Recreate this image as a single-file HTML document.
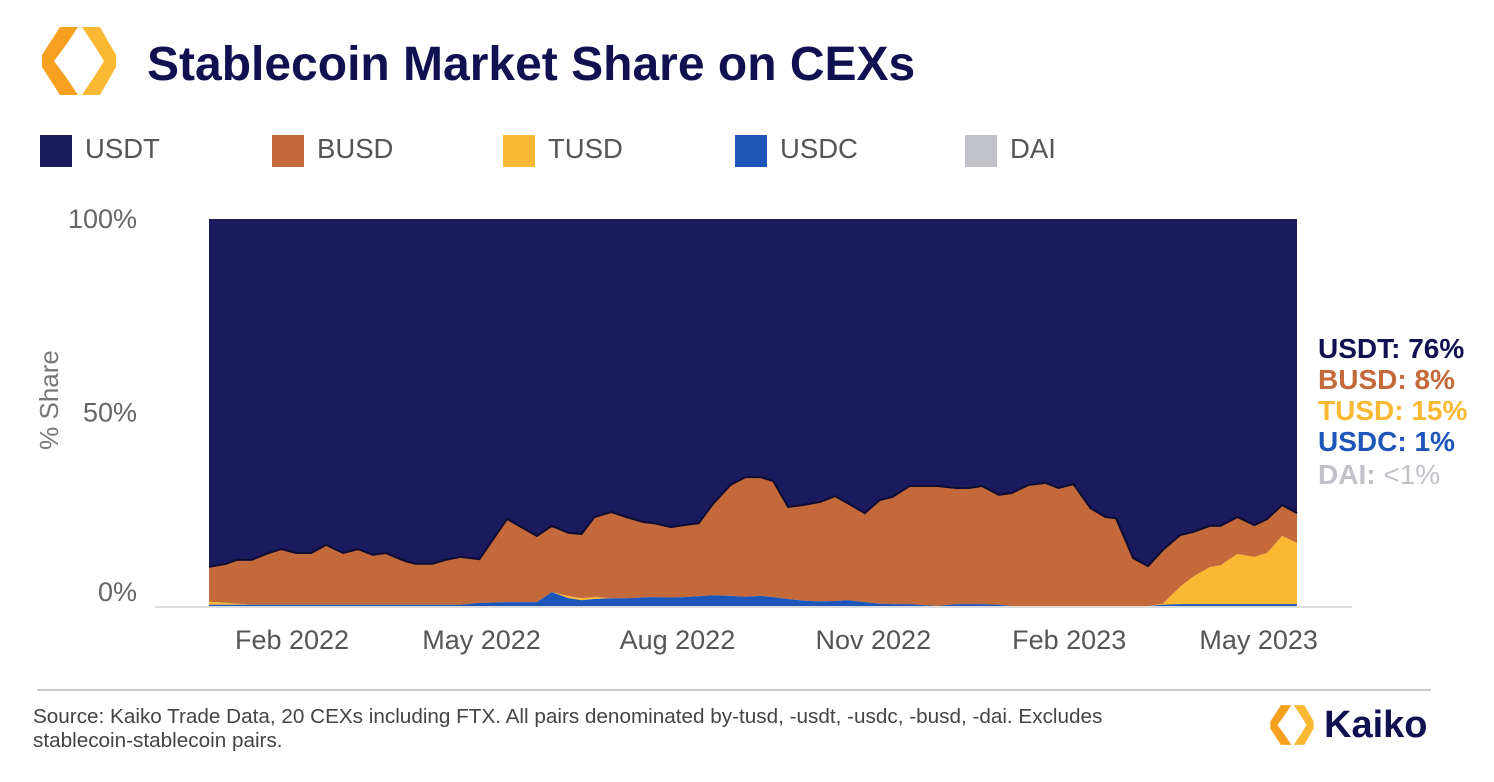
<!DOCTYPE html>
<html><head><meta charset="utf-8"><style>
body{margin:0;width:1494px;height:782px;background:#fff;overflow:hidden;font-family:"Liberation Sans",Arial,sans-serif;position:relative}
.abs{position:absolute}
.leg{position:absolute;top:135px;width:32px;height:32px}
.legt{position:absolute;top:133px;font-size:27.5px;color:#555}
.rl{position:absolute;left:1318px;font-size:28px;font-weight:bold}
</style></head><body>
<svg class="abs" style="left:38px;top:25px" width="82" height="72" viewBox="0 0 82 72">
<polygon points="22,2 40,2 28,20 16,36 28,52 40,70 22,70 4,42 4,30" fill="#f7a01f"/>
<polygon points="44,2 62,2 78,30 78,42 62,70 44,70 56,52 66,36 56,20" fill="#fbb833"/>
</svg>
<div class="abs" style="left:147px;top:37px;font-size:48px;font-weight:bold;color:#111152">Stablecoin Market Share on CEXs</div>
<div class="leg" style="left:40px;background:#1b1a5e"></div><div class="legt" style="left:85px">USDT</div>
<div class="leg" style="left:272px;background:#c4693a"></div><div class="legt" style="left:317px">BUSD</div>
<div class="leg" style="left:503px;background:#fbb833"></div><div class="legt" style="left:548px">TUSD</div>
<div class="leg" style="left:735px;background:#1d56b8"></div><div class="legt" style="left:780px">USDC</div>
<div class="leg" style="left:965px;background:#c0c2c8"></div><div class="legt" style="left:1010px">DAI</div>

<svg id="chart" class="abs" style="left:0;top:0" width="1494" height="782"></svg>

<div class="rl" style="top:333px;color:#111152">USDT: 76%</div>
<div class="rl" style="top:364px;color:#c4693a">BUSD: 8%</div>
<div class="rl" style="top:395px;color:#fbb833">TUSD: 15%</div>
<div class="rl" style="top:426px;color:#1d56b8">USDC: 1%</div>
<div class="rl" style="top:459px;color:#c0c2c8;font-weight:normal"><b>DAI:</b> &lt;1%</div>

<div class="abs" style="left:37px;top:689px;width:1394px;height:2px;background:#ccc"></div>
<div class="abs" style="left:33px;top:705px;font-size:20.7px;line-height:24px;color:#444">Source: Kaiko Trade Data, 20 CEXs including FTX. All pairs denominated by-tusd, -usdt, -usdc, -busd, -dai. Excludes<br>stablecoin-stablecoin pairs.</div>
<svg class="abs" style="left:1268px;top:703px" width="48" height="44" viewBox="0 0 82 72">
<polygon points="22,2 40,2 28,20 16,36 28,52 40,70 22,70 4,42 4,30" fill="#f7a01f"/>
<polygon points="44,2 62,2 78,30 78,42 62,70 44,70 56,52 66,36 56,20" fill="#fbb833"/>
</svg>
<div class="abs" style="left:1324px;top:704px;font-size:38px;font-weight:bold;color:#111152">Kaiko</div>

<script>
const days=[-8,0,5,12,20,26,33,40,47,55,62,69,75,84,89,97,103,110,119,132,146,153,161,167,173,181,188,196,201,209,215,222,229,237,244,251,257,264,271,279,286,292,300,307,313,321,334,343,349,355,363,369,377,385,391,398,406,413,418,426,433,440,448,454,462,467,475,483,489,496,503];
const usdc=[0.3,0.3,0.3,0.3,0.3,0.3,0.3,0.3,0.3,0.3,0.3,0.3,0.3,0.3,0.3,0.3,0.3,0.3,0.8,1,1,3.6,2,1.5,1.8,2,2,2.2,2.3,2.2,2.3,2.5,2.8,2.6,2.4,2.6,2.3,1.8,1.4,1.2,1.3,1.5,1,0.6,0.5,0.5,0,0.5,0.5,0.5,0.3,0,0,0,0,0,0,0,0,0,0,0.3,0.5,0.5,0.5,0.5,0.5,0.5,0.5,0.5,0.5];
const tusd=[0.8,0.5,0.3,0,0,0,0,0,0,0,0,0,0,0,0,0,0,0,0,0,0,0,0.5,0.5,0.5,0,0,0,0,0,0,0,0,0,0,0,0,0,0,0,0,0,0,0,0,0,0,0,0,0,0,0,0,0,0,0,0,0,0,0,0,0.3,4.4,7,9.5,10,12.9,12.2,13.2,17.6,15.8];
const busd=[9.0,10.1,11.3,11.6,13.4,14.4,13.4,13.4,15.5,13.4,14.4,12.9,13.4,11.3,10.6,10.6,11.6,12.4,11.3,21.5,17.1,17.1,16.4,16.6,20.7,22.3,21.0,19.5,19.1,18.2,18.6,18.9,23.8,28.7,30.9,30.7,30.0,23.8,24.7,25.7,27.1,25.1,23.0,26.8,27.7,30.5,31.0,30.0,30.0,30.5,28.4,29.2,31.3,31.8,30.5,31.5,25.3,23.0,22.7,12.4,10.3,13.9,13.4,11.6,10.7,10.2,9.6,8.2,8.8,8.0,7.7];
const yTicks=[0,50,100];
const yTickLabels=["0%","50%","100%"];
const xTickDays=[31,120,212,304,396,485];
const xTickLabels=["Feb 2022","May 2022","Aug 2022","Nov 2022","Feb 2023","May 2023"];

const NS="http://www.w3.org/2000/svg";
const svg=document.getElementById('chart');
const X0=209,X1=1297,Y0=606,Y1=219;
const dMin=days[0],dMax=days[days.length-1];
const xs=d=>X0+(d-dMin)/(dMax-dMin)*(X1-X0);
const ys=v=>Y0-v/100*(Y0-Y1);
function mk(t,a){const e=document.createElementNS(NS,t);for(const k in a)e.setAttribute(k,a[k]);svg.appendChild(e);return e;}

const base=mk('line',{x1:155,x2:1352,y1:Y0+1,y2:Y0+1,stroke:'#ddd','stroke-width':2});



const c1=usdc.map(v=>v), c2=usdc.map((v,i)=>v+tusd[i]), c3=c2.map((v,i)=>v+busd[i]);
const full=days.map(()=>100);
const zero=days.map(()=>0);
function area(lo,hi,color,name){
  let d='M'+days.map((dd,i)=>xs(dd).toFixed(1)+','+ys(hi[i]).toFixed(1)).join('L');
  for(let i=days.length-1;i>=0;i--)d+='L'+xs(days[i]).toFixed(1)+','+ys(lo[i]).toFixed(1);
  const p=mk('path',{d:d+'Z',fill:color});
  
  
}
area(c3,full,'#1b1a5e','usdt-area');
area(c2,c3,'#c4693a','busd-area');
area(c1,c2,'#fbb833','tusd-area');
area(zero,c1,'#1d56b8','usdc-area');
const ln=mk('polyline',{points:days.map((dd,i)=>xs(dd).toFixed(1)+','+ys(c3[i]).toFixed(1)).join(' '),fill:'none',stroke:'#0e0c33','stroke-width':2});



yTicks.forEach((t,i)=>{
  const yy=t===0?ys(t)-14:ys(t);
  const tx=mk('text',{x:137,y:yy+9,'text-anchor':'end','font-size':27,fill:'#666','font-family':'Liberation Sans, sans-serif'});
  tx.textContent=yTickLabels[i];
  
  
});
xTickDays.forEach((d,i)=>{
  const tx=mk('text',{x:xs(d),y:649,'text-anchor':'middle','font-size':27,fill:'#555','font-family':'Liberation Sans, sans-serif'});
  tx.textContent=xTickLabels[i];
  
  
});
const yt=mk('text',{x:0,y:0,'text-anchor':'middle','font-size':26,fill:'#777',transform:'translate(58,400) rotate(-90)','font-family':'Liberation Sans, sans-serif'});
yt.textContent='% Share';


</script>
</body></html>
